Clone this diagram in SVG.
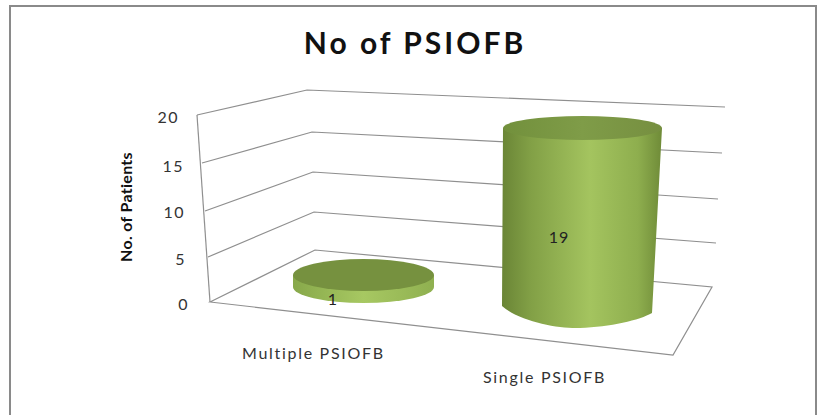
<svg xmlns="http://www.w3.org/2000/svg" width="823" height="415" viewBox="0 0 823 415">
  <defs>
    <linearGradient id="cylSide" x1="0" y1="0" x2="1" y2="0">
      <stop offset="0" stop-color="#6a8536"/>
      <stop offset="0.18" stop-color="#82a046"/>
      <stop offset="0.55" stop-color="#a4c45f"/>
      <stop offset="0.85" stop-color="#8eae4e"/>
      <stop offset="1" stop-color="#6f8b38"/>
    </linearGradient>
    <linearGradient id="cylTop" x1="0" y1="0" x2="1" y2="0">
      <stop offset="0" stop-color="#72903c"/>
      <stop offset="0.5" stop-color="#7f9c48"/>
      <stop offset="1" stop-color="#768f40"/>
    </linearGradient>
    <linearGradient id="diskSide" x1="0" y1="0" x2="1" y2="0">
      <stop offset="0" stop-color="#87a84a"/>
      <stop offset="0.5" stop-color="#a7c862"/>
      <stop offset="1" stop-color="#8fb050"/>
    </linearGradient>
  </defs>
  <style>
    .grid { fill: none; stroke: #8f8f8f; stroke-width: 1.2; }
    .tick { font-family: Lato, "Liberation Sans", sans-serif; font-size: 16px; letter-spacing: 1.5px; fill: #333; text-anchor: end; }
    .cat { font-family: Lato, "Liberation Sans", sans-serif; font-size: 16px; letter-spacing: 1.7px; fill: #333; }
    .val { font-family: Lato, "Liberation Sans", sans-serif; font-size: 16px; letter-spacing: 1px; fill: #222; text-anchor: middle; }
  </style>

  <rect width="823" height="415" fill="#ffffff"/>
  <!-- chart frame -->
  <rect x="10" y="6" width="806" height="420" fill="none" stroke="#8a8a8a" stroke-width="2"/>

  <text x="415" y="54" text-anchor="middle" font-family="Lato, 'Liberation Sans', sans-serif" font-size="30" font-weight="bold" letter-spacing="3" fill="#111">No of PSIOFB</text>

  <!-- walls, gridlines and floor -->
  <g id="axes">
    <line class="grid" x1="197" y1="115" x2="210" y2="302"/>
    <polyline class="grid" points="197,115 307,90 725,107"/>
    <polyline class="grid" points="202,163 312,132 722,153"/>
    <polyline class="grid" points="205,211 313,172 718,199"/>
    <polyline class="grid" points="208,257 314,212 716,243"/>
    <polygon class="grid" points="210,302 315,250 712,287 673,355"/>
  </g>

  <g id="tick-labels">
    <text class="tick" x="179" y="123">20</text>
    <text class="tick" x="184" y="172">15</text>
    <text class="tick" x="185" y="218">10</text>
    <text class="tick" x="186" y="265">5</text>
    <text class="tick" x="189" y="310">0</text>
  </g>

  <text transform="translate(132,207) rotate(-90)" text-anchor="middle" font-family="Lato, 'Liberation Sans', sans-serif" font-size="16" font-weight="bold" letter-spacing="0.3" fill="#111">No. of Patients</text>

  <!-- Multiple PSIOFB: value 1 -->
  <g id="bar-multiple">
    <path d="M293,275 L293,287 A70.5,16 0 0 0 434,287 L434,275 Z" fill="url(#diskSide)"/>
    <ellipse cx="363.5" cy="275" rx="70.5" ry="16" fill="#76913f"/>
    <text class="val" x="333" y="305">1</text>
  </g>

  <!-- Single PSIOFB: value 19 -->
  <g id="bar-single">
    <path d="M503,128 L502,306 C520,322 560,329 580,328 C610,327 640,320 652,313 L662,128 Z" fill="url(#cylSide)"/>
    <ellipse cx="582.5" cy="128" rx="79.5" ry="12" fill="url(#cylTop)"/>
    <text class="val" x="559" y="243">19</text>
  </g>

  <g id="category-labels">
    <text class="cat" x="242" y="359">Multiple PSIOFB</text>
    <text class="cat" x="483" y="383">Single PSIOFB</text>
  </g>
</svg>
